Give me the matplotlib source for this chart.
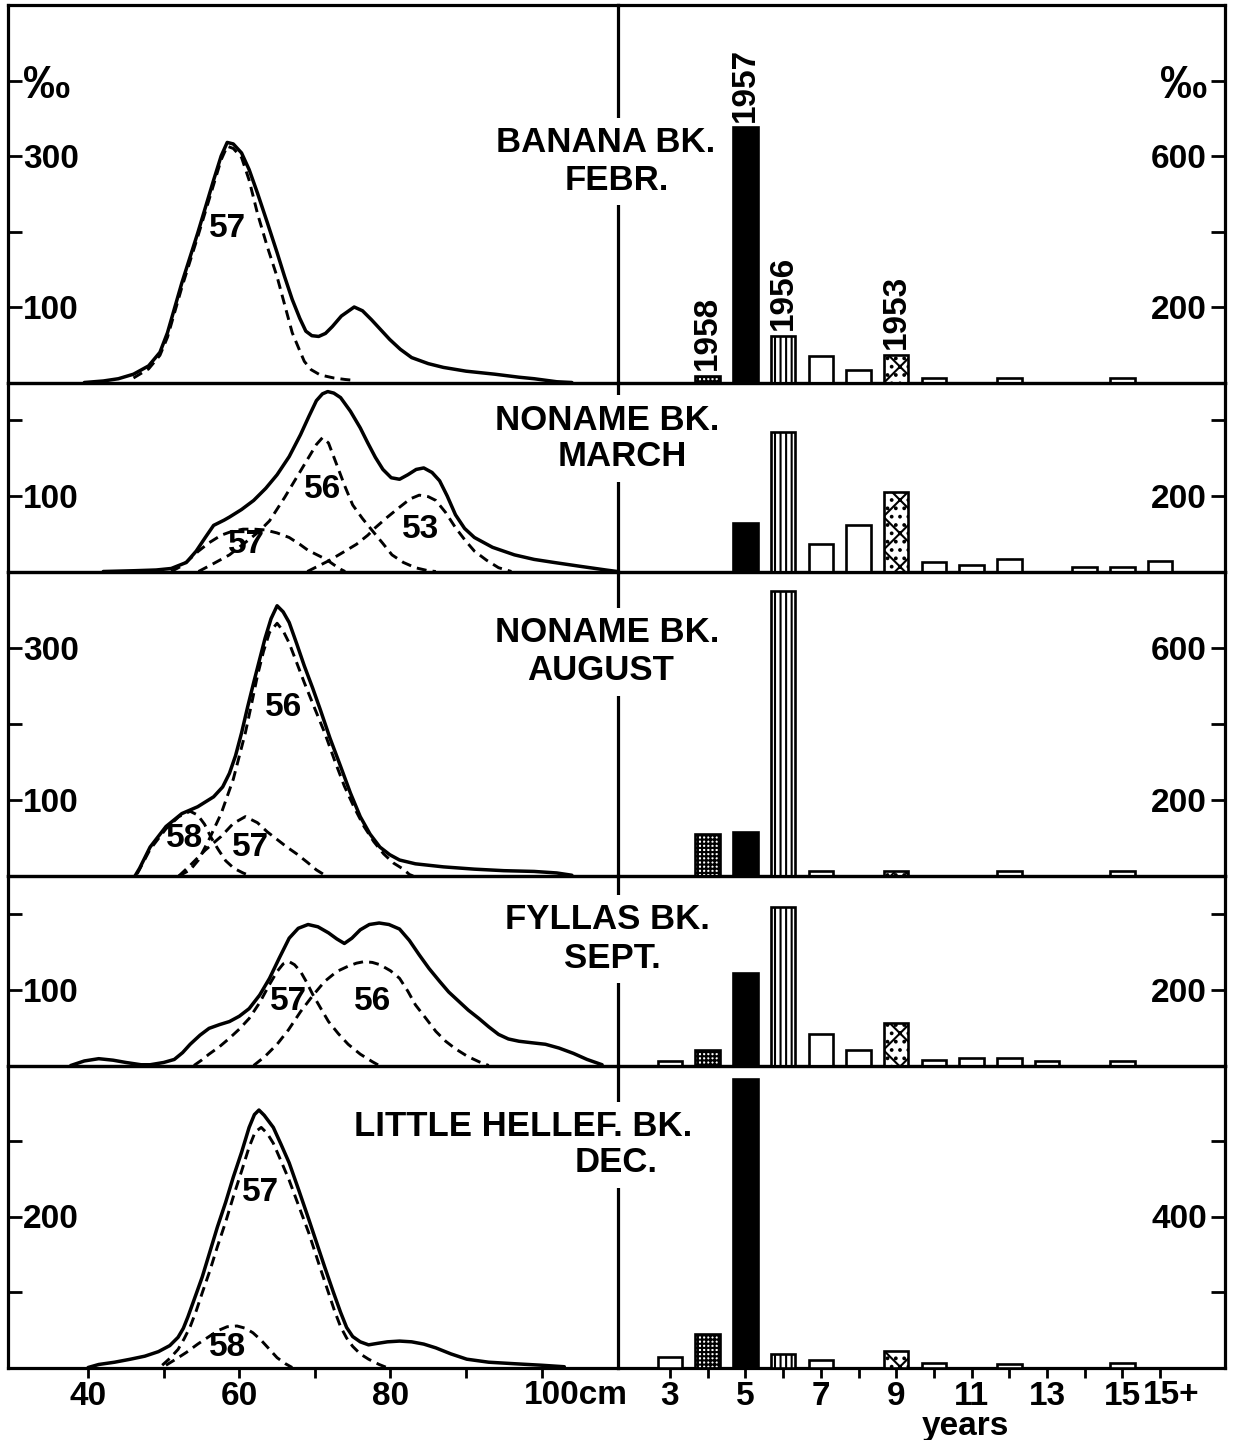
import matplotlib
matplotlib.use('Agg')
import matplotlib.pyplot as plt

# ---------------------------------------------------------------- data
# Length distributions, per mille, as (length cm, value)
feb_total = [(39.5, 0), (42, 2), (44, 5), (46, 11), (48, 22), (49.5, 40), (50.5, 66), (52.4, 132),
             (54.5, 198), (56.6, 268), (57.6, 300), (58.4, 318), (59.2, 316), (60.3, 304), (61.3, 282),
             (62.4, 251), (63.7, 212), (65, 172), (66, 140), (67, 110), (68, 85), (68.8, 68), (69.6, 62),
             (70.5, 61), (71.4, 65), (72.3, 74), (73.5, 88), (75.2, 100), (76.3, 95), (77.5, 83),
             (78.7, 70), (79.9, 57), (81.3, 44), (82.8, 33), (85, 25), (87, 20), (90, 15), (93.8, 11),
             (97, 7), (99, 5), (102, 1), (104, 0)]
feb_57 = [(46, 6), (48, 18), (49.5, 36), (50.5, 60), (52.4, 126), (54.5, 193), (56.6, 262), (57.6, 295),
          (58.4, 313), (59.2, 310), (60.3, 298), (61.3, 268), (62.4, 224), (63.7, 180), (65, 140),
          (66, 103), (67, 66), (68, 42), (68.6, 28), (69.5, 17), (70.7, 10), (72.5, 6), (74, 4), (75, 3)]

mar_total = [(42, 0), (46, 1), (49, 2), (51, 4), (53, 12), (54.3, 27), (55.5, 45), (56.6, 61), (58, 68),
             (58.7, 72), (60.3, 82), (61.9, 94), (63.5, 110), (65, 128), (66.6, 152), (68.1, 181),
             (69.2, 205), (70.2, 226), (71, 235), (71.7, 238), (72.5, 236), (73.4, 230), (74.7, 212),
             (76, 190), (77, 170), (78, 151), (79, 135), (80.1, 124), (81.2, 122), (82.3, 128),
             (83.4, 135), (84.4, 137), (85.5, 131), (86.5, 120), (87.5, 100), (88.6, 75), (89.8, 57),
             (91.1, 45), (93.5, 32), (96.4, 22), (99, 16), (101.6, 12), (105, 7), (108.5, 2), (110, 0)]
mar_57 = [(51, 0), (52.5, 8), (54.6, 27), (56, 38), (57.6, 48), (59, 53), (60.5, 56), (62, 56), (63.4, 55),
          (65, 51), (66.6, 45), (68, 36), (69.1, 28), (70.3, 22), (71.5, 16), (72.5, 9), (73.4, 3), (74, 0)]
mar_56 = [(54.6, 0), (56.5, 10), (58.7, 22), (61, 40), (62.5, 52), (64, 67), (66, 98), (68.1, 133),
          (69.3, 153), (70.2, 168), (71, 177), (71.8, 170), (72.9, 141), (74, 112), (75, 88), (76.3, 70),
          (77.6, 54), (79, 37), (80.2, 22), (81.7, 12), (83.3, 5), (85, 1), (86, 0)]
mar_53 = [(69, 0), (70, 5), (71.8, 14), (73.5, 24), (75.5, 36), (77, 48), (78, 58), (79.6, 72), (81.2, 85),
          (82.6, 96), (83.8, 101), (85, 99), (86, 94), (87.3, 78), (88.6, 58), (89.9, 41), (91.1, 27),
          (92.7, 15), (94.3, 5), (96, 0)]

aug_total = [(46.2, 0), (46.8, 10), (48.2, 38), (50.3, 65), (52.4, 82), (54.5, 91), (56.6, 104),
             (57.8, 117), (58.7, 135), (59.5, 158), (60.3, 188), (61.1, 222), (61.9, 254), (62.7, 285),
             (63.4, 312), (64.2, 338), (65, 355), (65.8, 347), (66.6, 333), (67.6, 305), (68.6, 276),
             (69.7, 247), (70.7, 219), (72, 181), (73.4, 144), (74.7, 109), (76, 78), (77.3, 55),
             (78.6, 38), (79.9, 28), (81.2, 21), (83.3, 16), (87, 12), (91.1, 9), (95, 7), (99, 6),
             (102, 4), (104, 1)]
aug_58 = [(46.5, 3), (48.2, 35), (50.3, 62), (52, 78), (53.5, 85), (54.5, 80), (55.4, 68), (56.3, 50),
          (57.2, 35), (58.2, 20), (59.3, 10), (60.5, 4), (61.5, 0)]
aug_57 = [(52, 0), (53.5, 14), (55.5, 34), (57.6, 52), (59.2, 69), (60.8, 78), (62.4, 70), (63.7, 58),
          (65, 48), (66.3, 38), (67.6, 29), (69, 18), (70.2, 8), (71.5, 0)]
aug_56 = [(52, 0), (53.5, 8), (54.6, 21), (56, 48), (57.6, 82), (59.2, 127), (60.8, 188), (61.6, 225),
          (62.4, 263), (63.2, 295), (64, 320), (65, 332), (65.8, 322), (66.6, 306), (67.6, 280),
          (68.6, 254), (69.9, 222), (71.3, 188), (72.6, 152), (73.9, 118), (75.2, 90), (76.5, 65),
          (77.8, 45), (79.1, 29), (80.4, 17), (81.7, 9), (82.5, 2), (83, 0)]

sep_total = [(37.7, 0), (39.5, 6), (41.4, 9), (43.3, 7), (45, 4), (47, 1), (48.2, 1), (50, 4), (51.4, 8),
             (52.5, 17), (53.5, 28), (54.8, 40), (56, 49), (57.4, 54), (58.7, 58), (60, 65), (61.3, 75),
             (62.7, 93), (64, 115), (65.3, 142), (66.6, 168), (67.8, 181), (69.1, 186), (70.4, 183),
             (71.8, 175), (72.9, 167), (73.9, 161), (74.9, 168), (76, 179), (77.2, 186), (78.5, 188),
             (79.8, 186), (81.2, 180), (82.5, 165), (83.8, 146), (85.1, 128), (86.5, 111), (87.7, 97),
             (89, 85), (90.3, 73), (91.7, 62), (93, 51), (94.3, 41), (95.6, 35), (97, 32), (98.7, 30),
             (100.5, 28), (102.3, 23), (104.2, 16), (106, 8), (108, 1)]
sep_57 = [(54, 0), (55, 7), (56, 15), (57.4, 25), (58.7, 36), (60, 48), (61.3, 62), (62.7, 83), (64, 107),
          (65, 124), (65.8, 134), (66.6, 137), (67.3, 133), (68.1, 124), (68.9, 110), (69.7, 94),
          (70.8, 75), (71.8, 58), (73.1, 42), (74.4, 28), (76, 15), (77.6, 5), (78.5, 0)]
sep_56 = [(61.9, 0), (63.4, 12), (65, 28), (66.5, 47), (68.1, 71), (69.7, 92), (71.3, 111), (72.9, 124),
          (74.4, 131), (75.5, 135), (76.5, 137), (77.6, 136), (78.6, 133), (80, 125), (81.2, 115),
          (82.3, 98), (83.3, 80), (84.7, 62), (86, 45), (87.3, 32), (88.6, 22), (90.2, 12), (91.7, 5),
          (93, 0)]

dec_total = [(40, 0), (41.4, 4), (43.5, 7), (45.6, 11), (47.5, 15), (49.3, 21), (50.8, 29), (51.9, 40),
             (52.6, 52), (53.2, 67), (54.1, 92), (55.1, 120), (56.1, 153), (57.1, 186), (58.2, 219),
             (59.2, 252), (60.3, 285), (61.3, 318), (62, 335), (62.6, 341), (63.3, 334), (64.5, 318),
             (65.5, 296), (66.6, 271), (67.9, 234), (69.2, 196), (70.3, 163), (71.3, 133), (72.4, 101),
             (73.4, 73), (74.2, 53), (75, 41), (76, 34), (77.1, 30), (78.3, 32), (79.6, 34), (81.2, 35),
             (82.8, 34), (84.4, 31), (86, 26), (88, 18), (90.1, 11), (93, 7), (96.4, 5), (100, 3),
             (103, 1)]
dec_57 = [(49.8, 3), (50.8, 12), (51.9, 24), (52.7, 38), (53.5, 54), (54.3, 75), (55.1, 99), (56.1, 128),
          (57.1, 160), (58.2, 193), (59.2, 226), (60.3, 260), (61.3, 292), (62.1, 312), (62.9, 318),
          (63.7, 310), (64.5, 297), (65.5, 274), (66.6, 248), (67.9, 213), (69.2, 178), (70.5, 138),
          (71.8, 99), (72.6, 75), (73.4, 54), (74.2, 39), (75, 28), (76, 18), (77.1, 11), (78.5, 4),
          (79.5, 0)]
dec_58 = [(50.3, 3), (51.6, 11), (53, 20), (54.5, 31), (56, 41), (57.2, 49), (58.4, 54), (59.7, 55),
          (60.8, 52), (61.8, 46), (62.9, 36), (64, 24), (65, 13), (66.1, 5), (67, 0)]

# Age distributions, per mille
feb_ages = [4, 5, 6, 7, 8, 9, 10, 12, 15]
feb_vals = [18, 676, 124, 69, 34, 74, 12, 12, 12]
mar_ages = [5, 6, 7, 8, 9, 10, 11, 12, 14, 15, 16]
mar_vals = [129, 370, 74, 124, 211, 26, 16, 32, 13, 11, 29]
aug_ages = [4, 5, 6, 7, 9, 12, 15]
aug_vals = [111, 116, 750, 12, 12, 12, 12]
sep_ages = [3, 4, 5, 6, 7, 8, 9, 10, 11, 12, 13, 15]
sep_vals = [11, 40, 245, 418, 84, 40, 111, 14, 21, 21, 11, 11]
dec_ages = [3, 4, 5, 6, 7, 9, 10, 12, 15]
dec_vals = [29, 88, 764, 35, 19, 44, 11, 8, 11]

# year-class labels on the February bars
feb_yearclass = {4: '1958', 5: '1957', 6: '1956', 9: '1953'}

# axis ticks / labels
cm_ticks = [40, 50, 60, 70, 80, 90, 100]
cm_labels = ['40', '', '60', '', '80', '', '']
age_ticks = list(range(3, 17))
age_labels = ['3', '', '5', '', '7', '', '9', '', '11', '', '13', '', '15', '']

# ---------------------------------------------------------------- layout
W, H, DPI = 1236, 1440, 100
plt.rcParams['hatch.linewidth'] = 1.5
FONT = dict(family=['Liberation Sans', 'DejaVu Sans'], weight='bold')
TS = 24

fig = plt.figure(figsize=(W / DPI, H / DPI), dpi=DPI)
fig.patch.set_facecolor('white')

ybounds = [5, 382.5, 571.5, 876, 1065.5, 1367.5]
XL, XM, XR = 8, 618, 1225
SPW = 2.3

panels = [
    dict(ymax=500, curves=[feb_total, feb_57], ages=feb_ages, vals=feb_vals,
         lt=[100, 200, 300, 400], ll=['100', '', '300', '‰'],
         rt=[200, 400, 600, 800], rl=['200', '', '600', '‰'],
         coh=[('57', 58.5, 204)],
         title=[('BANANA BK.', 606, 143), ('FEBR.', 617, 180)]),
    dict(ymax=250, curves=[mar_total, mar_57, mar_56, mar_53], ages=mar_ages, vals=mar_vals,
         lt=[100, 200], ll=['100', ''], rt=[200, 400], rl=['200', ''],
         coh=[('56', 71.0, 109), ('57', 61.0, 36), ('53', 84.0, 56)],
         title=[('NONAME BK.', 607, 420), ('MARCH', 622, 457)]),
    dict(ymax=400, curves=[aug_total, aug_58, aug_57, aug_56], ages=aug_ages, vals=aug_vals,
         lt=[100, 200, 300], ll=['100', '', '300'], rt=[200, 400, 600], rl=['200', '', '600'],
         coh=[('56', 65.8, 221), ('58', 52.8, 49), ('57', 61.5, 38)],
         title=[('NONAME BK.', 607, 633), ('AUGUST', 601, 671)]),
    dict(ymax=250, curves=[sep_total, sep_57, sep_56], ages=sep_ages, vals=sep_vals,
         lt=[100, 200], ll=['100', ''], rt=[200, 400], rl=['200', ''],
         coh=[('57', 66.5, 85), ('56', 77.6, 85)],
         title=[('FYLLAS BK.', 607, 920), ('SEPT.', 612, 958)]),
    dict(ymax=400, curves=[dec_total, dec_57, dec_58], ages=dec_ages, vals=dec_vals,
         lt=[100, 200, 300], ll=['', '200', ''], rt=[200, 400, 600], rl=['', '400', ''],
         coh=[('57', 62.8, 232), ('58', 58.5, 26)],
         title=[('LITTLE HELLEF. BK.', 523, 1127), ('DEC.', 616, 1163)]),
]


def bar_style(age):
    if age == 5:
        return 'black', None
    if age == 4:
        return 'white', '++++'
    if age == 6:
        return 'white', '|||'
    if age == 9:
        return 'white', 'x..'
    return 'white', None


for i, p in enumerate(panels):
    top, bot = ybounds[i], ybounds[i + 1]
    hfrac = (bot - top) / H
    axL = fig.add_axes([XL / W, 1 - bot / H, (XM - XL) / W, hfrac])
    axR = fig.add_axes([XM / W, 1 - bot / H, (XR - XM) / W, hfrac])
    axL.set_xlim(29.4, 110.1)
    axL.set_ylim(0, p['ymax'])
    axR.set_xlim(1.62, 17.72)
    axR.set_ylim(0, 2 * p['ymax'])
    for ax in (axL, axR):
        ax.patch.set_alpha(0)
        for s in ax.spines.values():
            s.set_linewidth(SPW)
    axR.spines['left'].set_visible(False)

    # curves
    for k, c in enumerate(p['curves']):
        xs = [a for a, b in c]
        ys = [b for a, b in c]
        if k == 0:
            axL.plot(xs, ys, color='black', lw=2.5, solid_joinstyle='round',
                     solid_capstyle='round', clip_on=False, zorder=3)
        else:
            axL.plot(xs, ys, color='black', lw=2.1, ls=(0, (3.4, 2.1)),
                     dash_capstyle='butt', clip_on=False, zorder=3)
    for lab, cx, cy in p['coh']:
        axL.text(cx, cy, lab, ha='center', va='center', fontsize=TS, **FONT, zorder=4)

    # bars
    bars = axR.bar(p['ages'], p['vals'], width=0.65, edgecolor='black', linewidth=1.9, zorder=3)
    for b, a in zip(bars, p['ages']):
        fc, h = bar_style(a)
        b.set_facecolor(fc)
        if h:
            b.set_hatch(h)
    if i == 0:
        for a, v in zip(p['ages'], p['vals']):
            if a in feb_yearclass:
                axR.annotate(feb_yearclass[a], xy=(a, v), xytext=(0, 4), textcoords='offset points',
                             rotation=90, ha='center', va='bottom', fontsize=TS, **FONT)

    # y ticks (inside)
    axL.set_yticks(p['lt'])
    axL.set_yticklabels(p['ll'], fontsize=TS, **FONT)
    axL.tick_params(axis='y', direction='in', length=10, width=2, pad=-11)
    for t in axL.yaxis.get_major_ticks():
        t.label1.set_horizontalalignment('left')
        if t.label1.get_text() == '‰':
            t.label1.set_fontsize(34)

    axR.yaxis.tick_right()
    axR.set_yticks(p['rt'])
    axR.set_yticklabels(p['rl'], fontsize=TS, **FONT)
    axR.tick_params(axis='y', direction='in', length=10, width=2, pad=-13)
    for t in axR.yaxis.get_major_ticks():
        t.label2.set_horizontalalignment('right')
        if t.label2.get_text() == '‰':
            t.label2.set_fontsize(34)

    if i < len(panels) - 1:
        axL.set_xticks([])
        axR.set_xticks([])
    else:
        axL.set_xticks(cm_ticks)
        axL.set_xticklabels(cm_labels, fontsize=TS, **FONT)
        axL.tick_params(axis='x', direction='out', length=7, width=2, pad=3)
        axL.annotate('100cm', xy=(100, 0), xycoords=('data', 'axes fraction'),
                     xytext=(-18, -12), textcoords='offset pixels', ha='left', va='top',
                     fontsize=TS, annotation_clip=False, **FONT)
        axR.set_xticks(age_ticks)
        axR.set_xticklabels(age_labels, fontsize=TS, **FONT)
        axR.tick_params(axis='x', direction='out', length=7, width=2, pad=3)
        axR.annotate('15+', xy=(16, 0), xycoords=('data', 'axes fraction'),
                     xytext=(-17, -12), textcoords='offset pixels', ha='left', va='top',
                     fontsize=TS, annotation_clip=False, **FONT)

    # titles (white box interrupts the divider line)
    for txt, cx, cy in p['title']:
        fig.text(cx / W, 1 - cy / H, txt, ha='center', va='center', fontsize=25, zorder=10,
                 bbox=dict(boxstyle='square,pad=0.25', fc='white', ec='none'), **FONT)

fig.text(965 / W, 1 - 1426 / H, 'years', ha='center', va='center', fontsize=TS, **FONT)

fig.savefig('out.png', dpi=DPI, facecolor='white')
